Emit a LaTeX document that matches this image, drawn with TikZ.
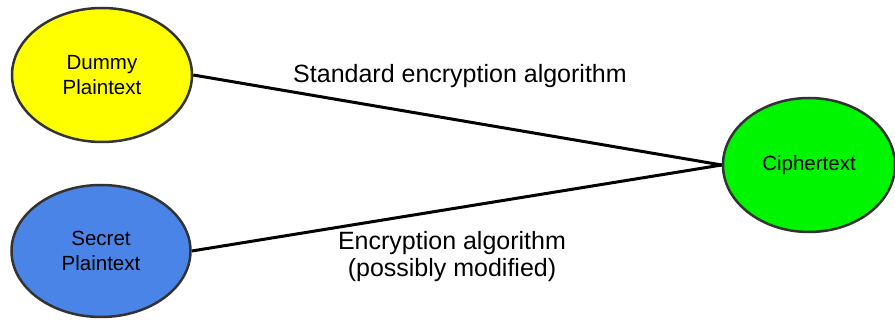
\documentclass[tikz,border=0pt]{standalone}
\usepackage{fontspec}
\setmainfont{Liberation Sans}
\usetikzlibrary{shapes.geometric}
\definecolor{yel}{HTML}{FFFF00}
\definecolor{blu}{HTML}{4A84E6}
\definecolor{grn}{HTML}{00F500}
\definecolor{rim}{HTML}{333333}
\begin{document}
\begin{tikzpicture}[x=1pt,y=-1pt,
  blob/.style={ellipse,draw=rim,line width=2.5pt,inner sep=0pt,align=center,
    font=\fontsize{20.5}{25}\selectfont},
  link/.style={line width=3pt,draw=black},
  lbl/.style={align=center,inner sep=0pt,font=\fontsize{25}{27}\selectfont}]
\useasboundingbox (0,0) rectangle (895,320);
\node[blob,fill=yel,minimum width=180pt,minimum height=134pt] (dummy) at (102,75) {Dummy\\Plaintext};
\node[blob,fill=blu,minimum width=179pt,minimum height=132pt] (secret) at (101,251) {Secret\\Plaintext};
\node[blob,fill=grn,minimum width=172pt,minimum height=134pt] (cipher) at (809,165) {Ciphertext};
\draw[link] (dummy.east) -- (cipher.west);
\draw[link] (secret.east) -- (cipher.west);
\node[lbl] (l1) at (460,76) {Standard encryption algorithm};
\node[lbl] (l2) at (452,257) {Encryption algorithm\\(possibly modified)};
\end{tikzpicture}
\end{document}
